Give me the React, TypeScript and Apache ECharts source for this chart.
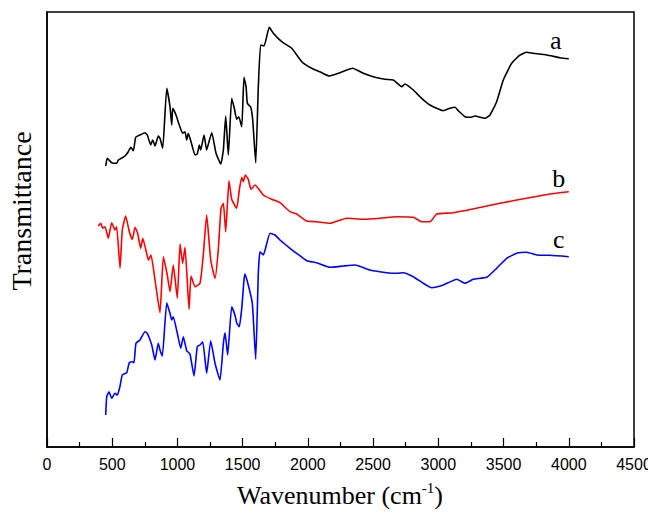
import React, { useEffect, useRef } from "react";
import * as echarts from "echarts";

// Wavenumber (cm-1) and transmittance (arbitrary offset units)
const aWave = [450, 462, 496, 534, 547, 598, 623, 642, 662, 680, 713, 751, 769, 795, 810, 828, 853, 866, 887, 918, 943, 956, 964, 989, 1014, 1040, 1058, 1071, 1083, 1102, 1135, 1152, 1168, 1178, 1204, 1224, 1242, 1263, 1296, 1332, 1352, 1370, 1390, 1416, 1436, 1454, 1470, 1493, 1510, 1526, 1536, 1562, 1577, 1600, 1620, 1638, 1664, 1704, 1735, 1799, 1876, 1953, 2029, 2106, 2164, 2246, 2344, 2425, 2514, 2591, 2655, 2719, 2744, 2808, 2872, 2936, 3038, 3089, 3128, 3153, 3204, 3243, 3281, 3358, 3396, 3447, 3498, 3562, 3626, 3677, 3728, 3831, 3933, 4000];
const aT = [281, 288.7, 284.3, 283.7, 287, 291, 295.3, 299.7, 296.3, 309.7, 312, 314.3, 312, 302, 307, 301, 311, 308.7, 298.7, 358.7, 340.3, 322, 338.7, 332, 322, 313.7, 315.3, 307, 313.7, 306.3, 292, 293, 302, 297, 312, 297, 305.3, 314.3, 293.7, 283, 297, 331, 292, 348.7, 338.7, 327.7, 330.3, 320.3, 369.7, 360.3, 343.7, 339.7, 327, 284.3, 360.3, 402, 401, 419.7, 413.7, 405.3, 398.7, 385.3, 378.7, 374.3, 371, 374.3, 378.7, 373.7, 369.7, 367.7, 367, 360.3, 363, 357, 348.7, 342, 336.3, 338.7, 339.7, 336.3, 330.3, 329.7, 331, 328.7, 332, 345.3, 367, 383.7, 392, 394.7, 393.7, 392, 389.3, 388.3];

const bWave = [393, 412, 427, 445, 470, 496, 521, 534, 560, 577, 603, 631, 654, 675, 695, 718, 734, 764, 777, 797, 828, 866, 892, 922, 943, 968, 999, 1020, 1040, 1058, 1089, 1104, 1135, 1173, 1198, 1224, 1255, 1288, 1313, 1334, 1352, 1370, 1395, 1416, 1454, 1474, 1493, 1505, 1520, 1543, 1564, 1595, 1658, 1722, 1786, 1863, 1914, 1991, 2067, 2169, 2297, 2425, 2553, 2681, 2808, 2872, 2936, 2961, 2987, 3115, 3345, 3601, 3856, 4000];
const bT = [221, 223.7, 218.7, 220.3, 208.7, 224.3, 217, 220.3, 178.7, 217, 231, 215.3, 207.7, 219.7, 213.7, 198.7, 208.7, 193.7, 187, 192, 167, 134.3, 190.3, 172, 155.3, 182, 148.7, 203, 183.7, 199.7, 137.7, 171, 160.3, 163.7, 192, 232, 187, 168.7, 197, 238.7, 243.7, 215.3, 266.3, 247.7, 238.7, 257, 269.7, 265.3, 272, 267.7, 257.7, 262, 252, 247.7, 244.3, 235.3, 233, 226, 225.3, 223.7, 228.7, 227.7, 228.7, 230.3, 229.7, 225.3, 225.3, 228.7, 233, 234.3, 240.3, 247, 253, 255.3];

const cWave = [450, 458, 475, 496, 521, 539, 560, 577, 611, 631, 654, 667, 682, 713, 751, 769, 803, 828, 853, 866, 884, 918, 943, 956, 968, 999, 1025, 1045, 1071, 1096, 1127, 1152, 1173, 1194, 1224, 1255, 1288, 1326, 1352, 1365, 1385, 1416, 1441, 1454, 1474, 1493, 1510, 1518, 1543, 1574, 1600, 1620, 1633, 1658, 1710, 1748, 1786, 1863, 1914, 1991, 2067, 2169, 2271, 2361, 2476, 2604, 2681, 2731, 2808, 2885, 2949, 3038, 3141, 3204, 3268, 3371, 3447, 3524, 3601, 3677, 3754, 3856, 4000];
const cT = [32, 50.3, 55.3, 48.7, 53.7, 52, 61, 72, 74.3, 84.3, 85.3, 84.3, 103.7, 107, 115.3, 113.7, 102, 87, 103.7, 97, 91, 144.3, 133.7, 127, 130.3, 113.7, 98.7, 110.3, 96.3, 93, 71, 100.3, 102, 105.3, 73.7, 106.3, 83.7, 67, 103.7, 114.3, 92, 140.3, 132, 124.3, 120.3, 138.7, 167, 173, 162, 143.7, 87.7, 173.7, 195.3, 192, 213.7, 212, 207, 198.7, 193.7, 186.3, 184.3, 179.7, 181, 182, 177, 174.3, 173.7, 174.3, 170.3, 163.7, 159.3, 162, 167.7, 163.7, 167.7, 169.7, 178.7, 188.7, 193.7, 194.7, 192, 191.7, 190.3];

const seriesNames = ["a", "b", "c"];
const seriesColors = ["#000000", "#ff0000", "#0000ff"];
const xTicks = { min: 0, max: 4500, interval: 500 };

const serif = "Liberation Serif";
const sans = "Liberation Sans";

export default function App() {
  const ref = useRef<HTMLDivElement>(null);
  useEffect(() => {
    if (!ref.current) return;
    const chart = echarts.init(ref.current, undefined, { renderer: "svg" });
    const sets = [
      [aWave, aT],
      [bWave, bT],
      [cWave, cT],
    ];
    const labelOffsets = [[-13, 0], [-10, 5], [-10, 1]];
    const series = sets.map(([w, t], i) => {
      const data = w.map((x, k) => [x, t[k]]);
      const last = data[data.length - 1];
      return {
        type: "line",
        name: seriesNames[i],
        data,
        showSymbol: false,
        symbol: "none",
        smooth: 0.15,
        lineStyle: { color: seriesColors[i], width: 1.6 },
        itemStyle: { color: seriesColors[i] },
        markPoint: {
          symbol: "circle",
          symbolSize: 0,
          silent: true,
          data: [
            {
              coord: last,
              label: {
                show: true,
                formatter: seriesNames[i],
                position: "top",
                offset: labelOffsets[i],
                color: "#000",
                fontFamily: serif,
                fontSize: 26,
              },
            },
          ],
        },
      };
    });
    chart.setOption({
      animation: false,
      backgroundColor: "#ffffff",
      grid: {
        left: 47,
        right: 22,
        top: 12,
        bottom: 70,
        show: true,
        borderColor: "#000",
        borderWidth: 1.5,
        containLabel: false,
      },
      xAxis: {
        type: "value",
        min: xTicks.min,
        max: xTicks.max,
        interval: xTicks.interval,
        axisLine: { show: true, lineStyle: { color: "#000", width: 1.5 } },
        axisTick: { show: true, inside: true, length: 9, lineStyle: { color: "#000", width: 1.2 } },
        minorTick: { show: true, splitNumber: 2, length: 5, lineStyle: { color: "#000", width: 1.2 } },
        axisLabel: {
          color: "#000",
          fontFamily: sans,
          fontSize: 16,
          margin: 9,
          formatter: (v: number) => String(v),
        },
        splitLine: { show: false },
      },
      yAxis: {
        type: "value",
        min: 0,
        max: 435,
        axisLine: { show: true, lineStyle: { color: "#000", width: 1.5 } },
        axisTick: { show: false },
        axisLabel: { show: false },
        splitLine: { show: false },
      },
      graphic: [
        {
          type: "text",
          x: 21,
          y: 211,
          rotation: Math.PI / 2,
          style: {
            text: "Transmittance",
            fontFamily: serif,
            fontSize: 28,
            fill: "#000",
            textAlign: "center",
            textVerticalAlign: "middle",
          },
        },
        {
          type: "text",
          x: 340,
          y: 495,
          style: {
            text: "{n|Wavenumber (cm}{sup|-1}{n|)}",
            fontFamily: serif,
            fontSize: 26,
            fill: "#000",
            textAlign: "center",
            textVerticalAlign: "middle",
            rich: {
              n: { fontFamily: serif, fontSize: 26, fill: "#000", lineHeight: 30 },
              sup: { fontFamily: serif, fontSize: 15, fill: "#000", verticalAlign: "top", lineHeight: 30, padding: [0, 0, 14, 0] },
            },
          },
        },
      ],
      series,
    });
    return () => chart.dispose();
  }, []);
  return <div ref={ref} style={{ width: 656, height: 517, margin: -8 }} />;
}
